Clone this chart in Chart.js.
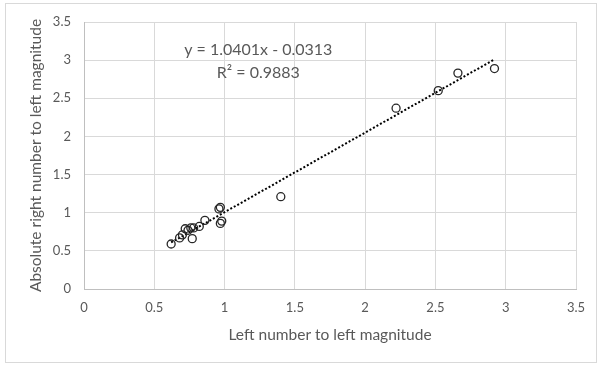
<!DOCTYPE html>
<html>
<head>
<meta charset="utf-8">
<script src="https://cdn.jsdelivr.net/npm/chart.js@4"></script>
<style>
  html, body { margin: 0; padding: 0; background: #fff; }
  #wrap { position: relative; width: 600px; height: 366px; }
  #frame { position: absolute; left: 5px; top: 3px; width: 590px; height: 358px; border: 1px solid #d9d9d9; }
  canvas { position: absolute; left: 0; top: 0; }
</style>
</head>
<body>
<div id="wrap">
  <div id="frame"></div>
  <canvas id="scatterChart" width="600" height="366"></canvas>
</div>
<script>
// measured points (left number / left magnitude vs abs right number / left magnitude)
const xVals = [0.62, 0.68, 0.70, 0.72, 0.74, 0.76, 0.77, 0.78, 0.82, 0.86, 0.96, 0.97, 0.97, 0.98, 1.40, 2.22, 2.52, 2.66, 2.92];
const yVals = [0.59, 0.67, 0.71, 0.79, 0.77, 0.80, 0.66, 0.80, 0.82, 0.90, 1.05, 1.07, 0.86, 0.89, 1.21, 2.37, 2.60, 2.83, 2.89];

// linear trendline ends
const trendX = [0.62, 2.92];
const trendY = [0.61, 3.01];

// axis tick labels (same on both axes)
const tickLabels = ["0", "0.5", "1", "1.5", "2", "2.5", "3", "3.5"];

const eqLines = ["y = 1.0401x - 0.0313", "R\u00B2 = 0.9883"];
const xTitle = "Left number to left magnitude";
const yTitle = "Absolute right number to left magnitude";

const FONT = "Lato, 'Open Sans', sans-serif";
const GREY = "#595959";

const points = xVals.map((x, i) => ({ x: x, y: yVals[i] }));
const trend = trendX.map((x, i) => ({ x: x, y: trendY[i] }));

// draws the trendline label inside the plot
const equationLabel = {
  id: "equationLabel",
  afterDatasetsDraw(chart) {
    const c = chart.ctx;
    const xs = chart.scales.x, ys = chart.scales.y;
    c.save();
    c.fillStyle = GREY;
    c.font = "16px " + FONT;
    c.textAlign = "center";
    c.textBaseline = "middle";
    c.fillText(eqLines[0], xs.getPixelForValue(1.24), ys.getPixelForValue(3.14));
    c.fillText(eqLines[1], xs.getPixelForValue(1.24), ys.getPixelForValue(2.84));
    c.restore();
  }
};

const tickFmt = (value, index) => tickLabels[index];

const ctx = document.getElementById("scatterChart").getContext("2d");
new Chart(ctx, {
  type: "scatter",
  data: {
    datasets: [
      {
        label: "data",
        data: points,
        pointStyle: "circle",
        pointRadius: 4,
        pointBorderWidth: 1.3,
        pointBorderColor: "#262626",
        pointBackgroundColor: "rgba(0,0,0,0)",
        order: 1
      },
      {
        label: "trend",
        type: "line",
        data: trend,
        borderColor: "#000",
        borderWidth: 2,
        borderDash: [2, 2],
        pointRadius: 0,
        fill: false,
        order: 2
      }
    ]
  },
  options: {
    responsive: false,
    animation: false,
    layout: { padding: { top: 22, right: 24, left: 27, bottom: 20 } },
    plugins: {
      legend: { display: false },
      tooltip: { enabled: false }
    },
    scales: {
      x: {
        type: "linear",
        min: 0,
        max: 3.5,
        ticks: { stepSize: 0.5, color: GREY, font: { family: FONT, size: 13 }, padding: 11, maxRotation: 0, callback: tickFmt },
        grid: { color: "#d9d9d9", drawTicks: false },
        border: { color: "#bfbfbf" },
        title: { display: true, text: xTitle, color: GREY, font: { family: FONT, size: 15.5 }, padding: { top: 4, bottom: 2 } },
        afterFit(scale) { scale.height = 57; }
      },
      y: {
        type: "linear",
        min: 0,
        max: 3.5,
        ticks: { stepSize: 0.5, color: GREY, font: { family: FONT, size: 13 }, padding: 13, callback: tickFmt },
        grid: { color: "#d9d9d9", drawTicks: false },
        border: { color: "#bfbfbf" },
        title: { display: true, text: yTitle, color: GREY, font: { family: FONT, size: 15.5 }, padding: { top: 0, bottom: 2 } },
        afterFit(scale) { scale.width = 57; }
      }
    }
  },
  plugins: [equationLabel]
});
</script>
</body>
</html>
